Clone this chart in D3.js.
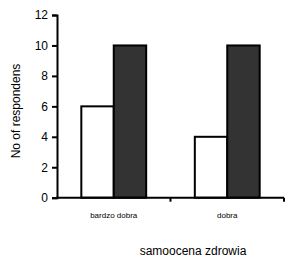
<!DOCTYPE html>
<html>
<head>
<meta charset="utf-8">
<script src="https://cdn.jsdelivr.net/npm/d3@7"></script>
<style>
  body { margin: 0; background: #fff; }
  text { font-family: "Liberation Sans", Arial, sans-serif; fill: #000; }
</style>
</head>
<body>
<div id="chart"></div>
<script>
const categories = ['bardzo dobra', 'dobra'];
const seriesNames = ['a', 'b'];
const seriesA = [6, 4];
const seriesB = [10, 10];
const yTicks = [0, 2, 4, 6, 8, 10, 12];
const FILLS = { a: '#ffffff', b: '#333333' };

const width = 285, height = 259;
const margin = { left: 57, right: 1, top: 15, bottom: 61 };

const svg = d3.select('#chart').append('svg')
    .attr('width', width)
    .attr('height', height);

const x = d3.scaleBand()
    .domain(categories)
    .range([margin.left, width - margin.right])
    .paddingInner(0)
    .paddingOuter(0);

const xInner = d3.scaleBand()
    .domain(seriesNames)
    .range([0, x.bandwidth()])
    .paddingOuter(0.75)
    .paddingInner(0);

const y = d3.scaleLinear()
    .domain([0, 12])
    .range([height - margin.bottom - 0.3, margin.top]);

const rows = categories.map((c, i) => ({ cat: c, values: [
    { key: 'a', v: seriesA[i] },
    { key: 'b', v: seriesB[i] }
]}));

let groups = svg.selectAll('.grp')
    .data(rows)
    .enter().append('g')
    .attr('class', 'grp')
    .attr('transform', d => 'translate(' + x(d.cat) + ',0)');

groups.selectAll('rect')
    .data(d => d.values)
    .enter().append('rect')
    .attr('x', d => xInner(d.key))
    .attr('y', d => y(d.v))
    .attr('width', xInner.bandwidth())
    .attr('height', d => y(0) - y(d.v))
    .attr('fill', d => FILLS[d.key])
    .attr('stroke', '#000')
    .attr('stroke-width', 2);

// y axis
let yAxis = svg.append('g')
    .attr('transform', 'translate(' + margin.left + ',0)')
    .call(d3.axisLeft(y).tickValues(yTicks).tickSize(5).tickPadding(4));
yAxis.select('.domain').attr('stroke-width', 2);
yAxis.selectAll('.tick line').attr('stroke-width', 2);
yAxis.selectAll('.tick text').style('font-size', '12px');

// x axis, ticks at band boundaries
let xAxisG = svg.append('g')
    .attr('transform', 'translate(0,' + y(0) + ')');
xAxisG.append('line')
    .attr('x1', margin.left - 1)
    .attr('x2', width - margin.right)
    .attr('stroke', '#000')
    .attr('stroke-width', 2);
let bounds = categories.map(c => x(c) + x.bandwidth());
xAxisG.selectAll('.xt')
    .data(bounds)
    .enter().append('line')
    .attr('class', 'xt')
    .attr('x1', d => d).attr('x2', d => d)
    .attr('y1', 0).attr('y2', 4)
    .attr('stroke', '#000')
    .attr('stroke-width', 2);
xAxisG.selectAll('.xl')
    .data(categories)
    .enter().append('text')
    .attr('class', 'xl')
    .attr('x', d => x(d) + x.bandwidth() / 2)
    .attr('y', 20)
    .attr('text-anchor', 'middle')
    .style('font-size', '8px')
    .text(d => d);

svg.append('text')
    .attr('x', 193)
    .attr('y', 255)
    .attr('text-anchor', 'middle')
    .style('font-size', '12px')
    .text('samoocena zdrowia');

svg.append('text')
    .attr('transform', 'translate(20,111) rotate(-90)')
    .attr('text-anchor', 'middle')
    .style('font-size', '12px')
    .text('No of respondens');
</script>
</body>
</html>
